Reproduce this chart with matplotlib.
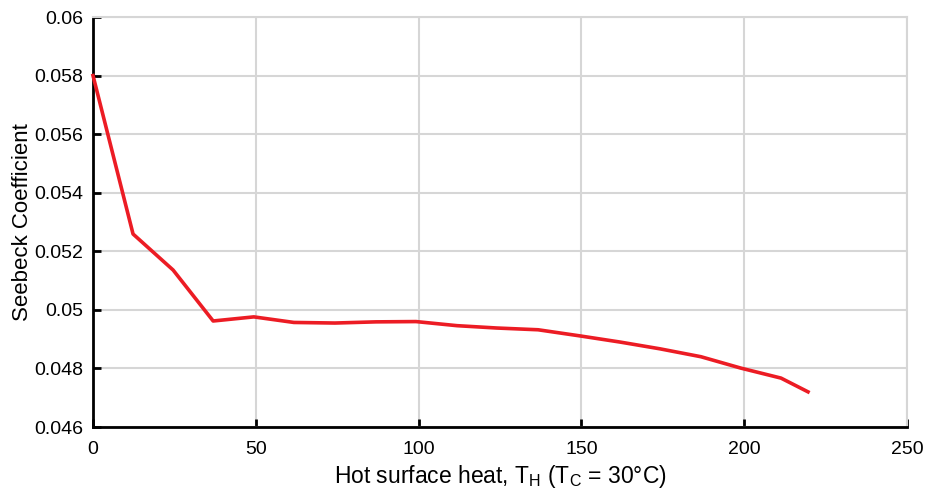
import matplotlib
matplotlib.use("Agg")
import matplotlib.pyplot as plt

plt.rcParams['font.family'] = ['Liberation Sans', 'DejaVu Sans']

temps = [0, 12.3, 24.6, 36.9, 49.4, 61.7, 74.3, 86.9, 99.2, 111.8, 124.0, 136.7,
         149.6, 161.9, 174.1, 186.7, 199.0, 211.3, 219.6]
seebeck = [0.0580, 0.05259, 0.05136, 0.04962, 0.04976, 0.04957, 0.04955, 0.04959,
           0.04960, 0.04946, 0.04938, 0.04932, 0.04911, 0.04890, 0.04867, 0.04840,
           0.04801, 0.04767, 0.04720]
xticks = [0, 50, 100, 150, 200, 250]
yticks = [0.046, 0.048, 0.05, 0.052, 0.054, 0.056, 0.058, 0.06]
yticklabels = ['0.046', '0.048', '0.05', '0.052', '0.054', '0.056', '0.058', '0.06']

fig = plt.figure(figsize=(9.27, 4.94), dpi=100)
ax = fig.add_axes([93/927, 1-427/494, (907-93)/927, (427-17)/494])
ax.plot(temps, seebeck, color='#ec1c24', lw=2.6, zorder=3, clip_on=False)
ax.set_xlim(0, 250)
ax.set_ylim(0.046, 0.06)
ax.set_xticks(xticks)
ax.set_xticklabels([str(t) for t in xticks])
ax.set_yticks(yticks)
ax.set_yticklabels(yticklabels)
ax.grid(True, color='#d6d6d6', lw=1.5)
ax.set_axisbelow(True)
for s in ['left', 'bottom']:
    ax.spines[s].set_linewidth(2)
for s in ['top', 'right']:
    ax.spines[s].set_linewidth(1.5)
    ax.spines[s].set_color('#d6d6d6')
ax.tick_params(direction='in', length=6, width=2, labelsize=14,
               top=False, right=False)
ax.tick_params(axis='x', pad=10)
ax.tick_params(axis='y', pad=7)
ax.set_xlabel('Hot surface heat, T$_\\mathregular{H}$ (T$_\\mathregular{C}$ = 30°C)', fontsize=16.5, labelpad=4)
ax.set_ylabel('Seebeck Coefficient', fontsize=16, labelpad=1)
fig.savefig('out.png', dpi=100)
